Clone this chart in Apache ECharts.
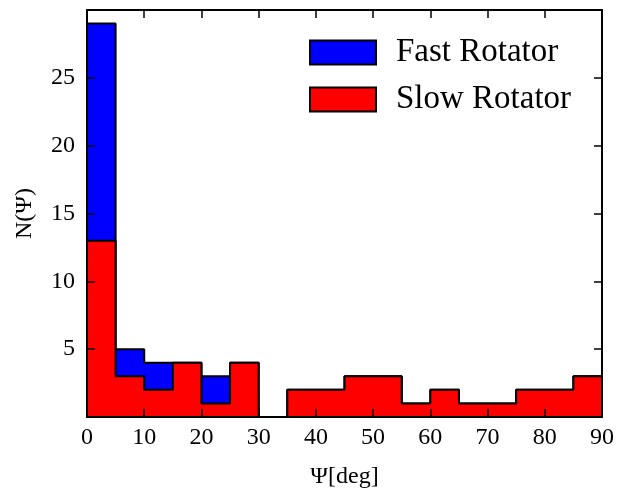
<!DOCTYPE html>
<html>
<head>
<meta charset="utf-8">
<script src="https://cdn.jsdelivr.net/npm/echarts@6/dist/echarts.min.js"></script>
<style>
html,body{margin:0;padding:0;background:#fff;}
#chart{width:619px;height:494px;}
</style>
</head>
<body>
<div id="chart"></div>
<script>
// Histogram bins (degrees): width 5 from 0 to 90
const binEdges = [0,5,10,15,20,25,30,35,40,45,50,55,60,65,70,75,80,85,90];
// Counts per bin
const slowCounts = [13,3,2,4,1,4,0,2,2,3,3,1,2,1,1,2,2,3];
const fastCounts = [16,2,2,0,2,0,0,0,0,0,0,0,0,0,0,0,0,0];
const xTicks = [0,10,20,30,40,50,60,70,80,90];
const yTickLabels = [5,10,15,20,25];
const seriesNames = ['Fast Rotator','Slow Rotator'];

const totalCounts = slowCounts.map((v,i)=>v+fastCounts[i]);

function stepPoints(counts){
  const pts = [[binEdges[0],0]];
  for (let i=0;i<counts.length;i++) pts.push([binEdges[i],counts[i]]);
  pts.push([binEdges[binEdges.length-1],0]);
  return pts;
}

const FONT = '"Liberation Serif","DejaVu Serif",serif';
const chart = echarts.init(document.getElementById('chart'), null, {renderer:'canvas'});

const axisCommon = {
  axisLine:{show:true,onZero:false,lineStyle:{color:'#000',width:2}},
  axisTick:{show:true,inside:true,length:8,lineStyle:{color:'#000',width:1.5}},
  splitLine:{show:false},
  z:10
};

chart.setOption({
  animation:false,
  backgroundColor:'#fff',
  grid:{left:87,right:17,top:10,bottom:76},
  legend:{
    left:304, top:31, orient:'vertical',
    itemWidth:66, itemHeight:24, itemGap:14,
    textStyle:{fontFamily:FONT,fontSize:33,color:'#000',lineHeight:24,padding:[0,0,0,15]},
    data:[
      {name:seriesNames[0],icon:'rect',itemStyle:{color:'#0000ff',borderColor:'#000',borderWidth:2}},
      {name:seriesNames[1],icon:'rect',itemStyle:{color:'#ff0000',borderColor:'#000',borderWidth:2}}
    ]
  },
  xAxis:[
    Object.assign({}, axisCommon, {
      type:'value', position:'bottom', min:xTicks[0], max:xTicks[xTicks.length-1], interval:10,
      name:'Ψ[deg]', nameLocation:'middle', nameGap:48,
      nameTextStyle:{fontFamily:FONT,fontSize:24,color:'#000'},
      axisLabel:{fontFamily:FONT,fontSize:24,color:'#000',margin:9}
    }),
    Object.assign({}, axisCommon, {
      type:'value', position:'top', min:xTicks[0], max:xTicks[xTicks.length-1], interval:10,
      axisLabel:{show:false}
    })
  ],
  yAxis:[
    Object.assign({}, axisCommon, {
      type:'value', position:'left', min:0, max:30, interval:5,
      name:'N(Ψ)', nameLocation:'middle', nameGap:50, nameRotate:90,
      nameTextStyle:{fontFamily:FONT,fontSize:24,color:'#000'},
      axisLabel:{fontFamily:FONT,fontSize:24,color:'#000',margin:12,
        formatter:v=> yTickLabels.indexOf(v)>=0 ? String(v) : ''}
    }),
    Object.assign({}, axisCommon, {
      type:'value', position:'right', min:0, max:30, interval:5,
      axisLabel:{show:false}
    })
  ],
  series:[
    {
      name:seriesNames[0], type:'line', step:'end', xAxisIndex:0, yAxisIndex:0,
      data:stepPoints(totalCounts), showSymbol:false, symbol:'none',
      color:'#0000ff',
      lineStyle:{color:'#000',width:2},
      areaStyle:{color:'#0000ff',opacity:1},
      z:2
    },
    {
      name:seriesNames[1], type:'line', step:'end', xAxisIndex:0, yAxisIndex:0,
      data:stepPoints(slowCounts), showSymbol:false, symbol:'none',
      color:'#ff0000',
      lineStyle:{color:'#000',width:2},
      areaStyle:{color:'#ff0000',opacity:1},
      z:3
    }
  ]
});
</script>
</body>
</html>
